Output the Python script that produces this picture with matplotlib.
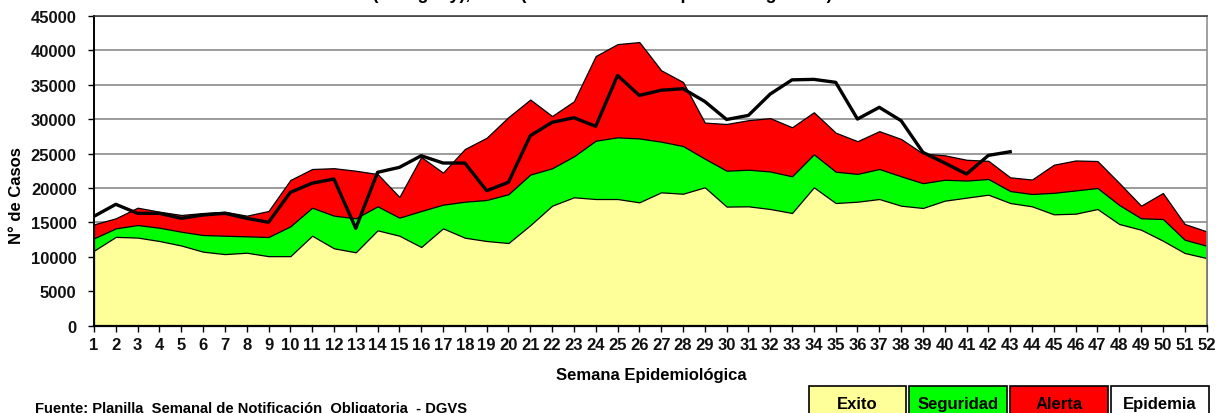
import matplotlib
matplotlib.use("Agg")
import matplotlib.pyplot as plt
from matplotlib.patches import Rectangle

# ---------------- data ----------------
weeks = list(range(1, 53))

exito = [10900, 12900, 12800, 12300, 11650, 10750, 10400, 10600, 10100, 10100,
         13070, 11240, 10660, 13850, 13070, 11430, 14140, 12780, 12300, 12010,
         14600, 17430, 18650, 18400, 18400, 17920, 19370, 19170, 20100, 17300,
         17340, 16950, 16370, 20100, 17820, 18010, 18400, 17430, 17100, 18160,
         18600, 19030, 17820, 17340, 16180, 16270, 16950, 14770, 13940, 12350,
         10560, 9830]

seguridad = [12690, 14140, 14620, 14230, 13650, 13170, 13070, 12980, 12880, 14430,
             17140, 15980, 15600, 17340, 15690, 16660, 17580, 18010, 18260, 19100,
             21950, 22860, 24600, 26870, 27360, 27200, 26730, 26100, 24260, 22510,
             22660, 22400, 21700, 24900, 22370, 22050, 22760, 21700, 20700, 21200,
             21080, 21310, 19560, 19130, 19300, 19650, 20000, 17530, 15600, 15500,
             12490, 11620]

alerta = [14720, 15600, 17140, 16560, 16080, 16370, 16560, 15980, 16660, 21160,
          22760, 22880, 22510, 22030, 18700, 24500, 22230, 25660, 27300, 30300,
          32850, 30450, 32600, 39170, 40900, 41200, 37100, 35400, 29500, 29300,
          29850, 30150, 28820, 31000, 28040, 26800, 28260, 27120, 25000, 24750,
          24100, 23950, 21550, 21230, 23380, 24000, 23920, 20730, 17430, 19270,
          14770, 13710]

casos_weeks = list(range(1, 44))
casos = [15890, 17630, 16320, 16320, 15600, 16080, 16320, 15600, 15020, 19370,
         20700, 21310, 14140, 22280, 23000, 24690, 23630, 23630, 19610, 20830,
         27600, 29540, 30210, 28960, 36350, 33450, 34200, 34430, 32570, 29950,
         30550, 33650, 35710, 35780, 35350, 30020, 31720, 29780, 25180, 23630,
         22030, 24740, 25270]

yticks = list(range(0, 45001, 5000))
legend_labels = ["Exito", "Seguridad", "Alerta", "Epidemia"]
legend_colors = ["#FFFF99", "#00FF00", "#FF0000", "#FFFFFF"]

title = "Corredor Endémico de ETI (Paraguay), 2013 (hasta la semana epidemiológica 43)"
ylabel = "N° de Casos"
xlabel = "Semana Epidemiológica"
footer = "Fuente: Planilla  Semanal de Notificación  Obligatoria  - DGVS"

# ---------------- style ----------------
NARROW = ["Liberation Sans Narrow", "Liberation Sans", "DejaVu Sans"]
REG = ["Liberation Sans", "DejaVu Sans"]
plt.rcParams["font.family"] = NARROW
plt.rcParams["font.weight"] = "bold"

W, H = 1223, 414
fig = plt.figure(figsize=(W / 100, H / 100), dpi=100)
fig.patch.set_facecolor("white")

x0, x1 = 94, 1206.5
y_top, y_bot = 16.9, 326.7
ax = fig.add_axes([x0 / W, (H - y_bot) / H, (x1 - x0) / W, (y_bot - y_top) / H])

ax.fill_between(weeks, 0, alerta, facecolor=legend_colors[2], edgecolor="black",
                linewidth=0.9, zorder=2)
ax.fill_between(weeks, 0, seguridad, facecolor=legend_colors[1], edgecolor="black",
                linewidth=0.9, zorder=3)
ax.fill_between(weeks, 0, exito, facecolor=legend_colors[0], edgecolor="black",
                linewidth=0.9, zorder=4)
ax.plot(casos_weeks, casos, color="black", linewidth=2.4, zorder=5,
        solid_joinstyle="round")

ax.set_xlim(1, 52)
ax.set_ylim(0, 45000)
ax.set_xticks(weeks)
ax.set_xticklabels([str(w) for w in weeks])
ax.set_yticks(yticks)
ax.set_yticklabels([str(v) for v in yticks])
ax.yaxis.grid(True, color="#808080", linewidth=1.1, zorder=0)
ax.set_axisbelow(True)

ax.tick_params(axis="x", direction="out", length=4, width=1, pad=4,
               labelsize=12, colors="black")
ax.tick_params(axis="y", direction="out", length=4, width=1, pad=8.5,
               labelsize=12, colors="black")
for lab in ax.get_xticklabels() + ax.get_yticklabels():
    lab.set_fontweight("bold")
    lab.set_color("#111111")

ax.spines["left"].set_color("black")
ax.spines["left"].set_linewidth(1.4)
ax.spines["bottom"].set_color("black")
ax.spines["bottom"].set_linewidth(1.6)
ax.spines["top"].set_color("#333333")
ax.spines["top"].set_linewidth(1.1)
ax.spines["right"].set_color("#909090")
ax.spines["right"].set_linewidth(1.2)
for s in ax.spines.values():
    s.set_zorder(6)

# title (cut off at top of image, as in the reference)
fig.text(832 / W, (H + 1.2) / H, title, ha="right", va="baseline",
         fontsize=13, fontweight="bold", color="black")

fig.text(17 / W, 1 - 196 / H, ylabel, rotation=90, ha="center", va="center",
         fontsize=12, fontweight="bold", family=REG, color="black")
fig.text(651 / W, 1 - 376 / H, xlabel, ha="center", va="center",
         fontsize=12, fontweight="bold", color="black")
fig.text(35 / W, (H - 413) / H, footer, ha="left", va="baseline",
         fontsize=10.6, fontweight="bold", color="black")

# legend boxes at bottom right
boxes = [(809, 906), (909, 1007), (1010, 1108), (1111, 1209)]
for (bx0, bx1), lab, col in zip(boxes, legend_labels, legend_colors):
    r = Rectangle((bx0 / W, (H - 422) / H), (bx1 - bx0) / W, 35 / H,
                  transform=fig.transFigure, facecolor=col, edgecolor="black",
                  linewidth=1.2, clip_on=False)
    fig.add_artist(r)
    fig.text((bx0 + bx1) / 2 / W, (H - 409.5) / H, lab, ha="center",
             va="baseline", fontsize=12, fontweight="bold", color="black")

fig.savefig("out.png", dpi=100)
